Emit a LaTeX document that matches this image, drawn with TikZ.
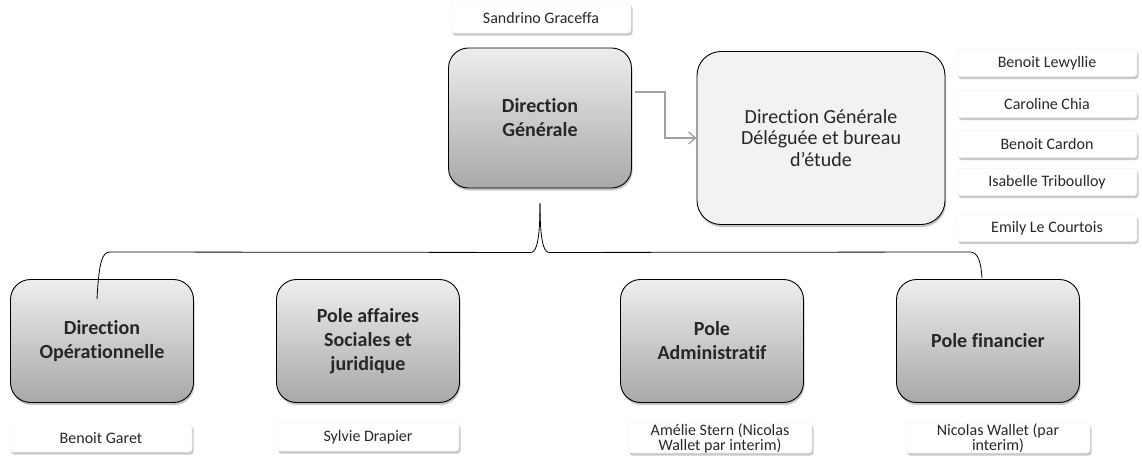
\documentclass[tikz,border=0pt]{standalone}
\usepackage{fontspec}
\setmainfont{Carlito}[Ligatures=NoCommon]
\usetikzlibrary{shadows,arrows.meta,calc}
\definecolor{boxtop}{RGB}{238,238,238}
\definecolor{boxbot}{RGB}{168,168,168}
\definecolor{dgdfill}{RGB}{242,242,242}
\definecolor{arrowgray}{RGB}{160,160,160}
\definecolor{nametext}{RGB}{40,40,40}
\tikzset{
  bigbox/.style={draw=black, line width=0.9pt, rounded corners=20pt, top color=boxtop, bottom color=boxbot,
    minimum width=183pt, minimum height=123pt, align=center, inner sep=4pt,
    font=\fontsize{20}{24}\selectfont\bfseries, text=black!85,
    drop shadow={shadow xshift=1pt, shadow yshift=-2.5pt, opacity=0.45}},
  dgdbox/.style={draw=black, line width=0.9pt, rounded corners=24pt, fill=dgdfill,
    minimum width=248pt, minimum height=173pt, align=center,
    font=\fontsize{20}{21.5}\selectfont, text=black!85,
    drop shadow={shadow xshift=1pt, shadow yshift=-2.5pt, opacity=0.45}},
  namebox/.style={fill=white, draw=black!8, line width=0.4pt, rounded corners=3pt, minimum width=180pt, minimum height=27pt,
    align=center, inner sep=0pt, font=\fontsize{16}{15}\selectfont, text=nametext,
    drop shadow={shadow xshift=1.5pt, shadow yshift=-2.5pt, opacity=0.35, fill=black!60, draw=none}},
  link/.style={draw=black, line width=0.8pt},
  grayarrow/.style={draw=arrowgray, line width=1.3pt, -{Straight Barb[length=7pt,width=12pt]}}
}
\begin{document}
\begin{tikzpicture}[x=1pt,y=-1pt]
\useasboundingbox (0,0) rectangle (1142,459);
\fill[white] (0,0) rectangle (1142,459);
% top
\node[namebox, minimum width=180pt, minimum height=30pt] (sandrino) at (541,18) {Sandrino Graceffa};
\node[bigbox, minimum height=140pt] (dg) at (540,118) {Direction\\Générale};
\node[dgdbox] (dgd) at (821,138) {Direction Générale\\Déléguée et bureau\\d’étude};
% right names
\node[namebox] (lewyllie) at (1047,63) {Benoit Lewyllie};
\node[namebox] (chia) at (1047,104) {Caroline Chia};
\node[namebox] (cardon) at (1047,144) {Benoit Cardon};
\node[namebox] (triboulloy) at (1047,182) {Isabelle Triboulloy};
\node[namebox] (courtois) at (1047,228) {Emily Le Courtois};
% bottom boxes
\node[bigbox] (do) at (102,341) {Direction\\Opérationnelle};
\node[bigbox] (pas) at (368,341) {Pole affaires\\Sociales et\\juridique};
\node[bigbox] (pa) at (712,341) {Pole\\Administratif};
\node[bigbox] (pf) at (988,341) {Pole financier};
% bottom names
\node[namebox, minimum width=182pt, minimum height=28pt] (garet) at (101,438) {Benoit Garet};
\node[namebox, minimum width=182pt, minimum height=28pt] (drapier) at (368,437) {Sylvie Drapier};
\node[namebox, minimum width=184pt, minimum height=30pt] (stern) at (720,438) {Amélie Stern (Nicolas\\Wallet par interim)};
\node[namebox, minimum width=184pt, minimum height=30pt] (wallet) at (998,438) {Nicolas Wallet (par\\interim)};
% arrow DG -> DGD
\draw[grayarrow] ($(dg.east)+(3,-26)$) -- ++(30,0) |- (dgd.west);
% bracket connector
\coordinate (sp) at ($(dg.south)+(0,15)$);
\coordinate (doin) at ($(do.north)+(-5,20)$);
\coordinate (pfin) at ($(pf.north)+(-6,-1)$);
\draw[link] (sp) .. controls ($(sp)+(0,34)$) and ($(sp)+(-3,49)$) .. ($(sp)+(-9,49)$)
  -- (110,252) .. controls (102,252) and (99,262) .. (doin);
\draw[link] (sp) .. controls ($(sp)+(0,34)$) and ($(sp)+(3,49)$) .. ($(sp)+(9,49)$)
  -- (970,252) .. controls (978,252) and (981,262) .. (pfin);
\end{tikzpicture}
\end{document}
